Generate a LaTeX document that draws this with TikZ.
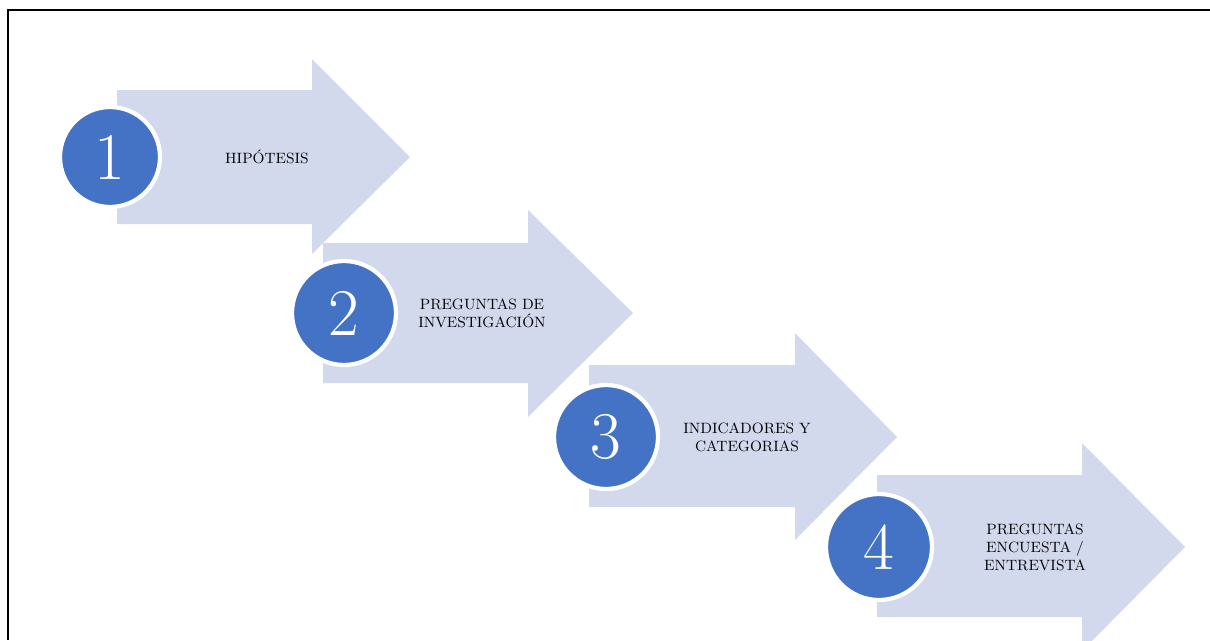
\documentclass[tikz,border=0pt]{standalone}
\usepackage{tikz}

\definecolor{arrowfill}{HTML}{D3D9EC}
\definecolor{circfill}{HTML}{4472C4}

\begin{document}
\begin{tikzpicture}[x=0.02cm, y=-0.02cm,
  num/.style={circle, fill=circfill, draw=white, line width=2.4pt, inner sep=0pt,
    text=white, font=\fontsize{38}{40}\selectfont},
  lbl/.style={align=center, font=\fontsize{8.5}{10.2}\selectfont}]
\useasboundingbox (0, 0) rectangle (1210, 640);
\clip (0, 0) rectangle (1210, 640);

\fill[arrowfill] (117, 90) -- (312, 90) -- (312, 59) -- (410, 157) -- (312, 254) -- (312, 224) -- (117, 224) -- cycle;
\node[num, minimum size=2.0cm] (n1) at (110, 157) {1};
\node[lbl] (t1) at (267, 157) {HIPÓTESIS};

\fill[arrowfill] (323, 243) -- (528, 243) -- (528, 210) -- (633, 313) -- (528, 417) -- (528, 383) -- (323, 383) -- cycle;
\node[num, minimum size=2.08cm] (n2) at (344, 313) {2};
\node[lbl] (t2) at (482, 313) {PREGUNTAS DE\\INVESTIGACIÓN};

\fill[arrowfill] (589, 365) -- (795, 365) -- (795, 333) -- (897, 437) -- (795, 540) -- (795, 507) -- (589, 507) -- cycle;
\node[num, minimum size=2.08cm] (n3) at (606, 437) {3};
\node[lbl] (t3) at (747, 437) {INDICADORES Y\\CATEGORIAS};

\fill[arrowfill] (877, 475) -- (1082, 475) -- (1082, 443) -- (1185, 547) -- (1082, 651) -- (1082, 617) -- (877, 617) -- cycle;
\node[num, minimum size=2.12cm] (n4) at (879, 547) {4};
\node[lbl] (t4) at (1035, 547) {PREGUNTAS\\ENCUESTA /\\ENTREVISTA};

% frame
\draw[line width=1.2pt] (1210, 10) -- (8, 10) -- (8, 640);
\end{tikzpicture}
\end{document}
